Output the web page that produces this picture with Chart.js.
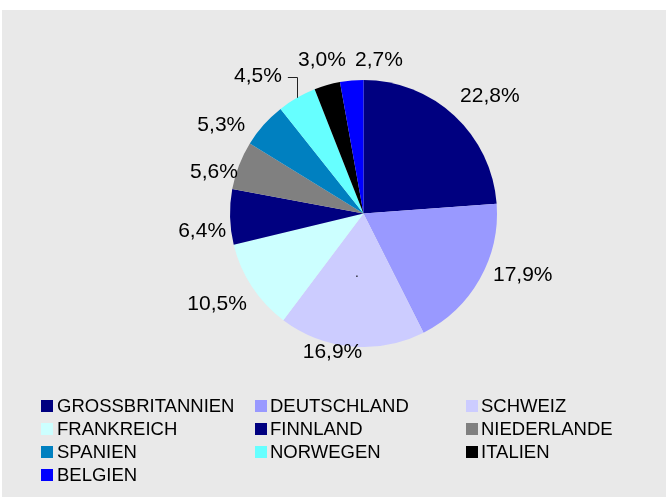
<!DOCTYPE html>
<html>
<head>
<meta charset="utf-8">
<script src="https://cdn.jsdelivr.net/npm/chart.js@4/dist/chart.umd.min.js"></script>
<style>
  html, body { margin: 0; padding: 0; background: #fff; }
  canvas { display: block; }
</style>
</head>
<body>
<canvas id="myChart" width="666" height="497"></canvas>
<script>
// values
const categories = ['GROSSBRITANNIEN', 'DEUTSCHLAND', 'SCHWEIZ', 'FRANKREICH', 'FINNLAND',
  'NIEDERLANDE', 'SPANIEN', 'NORWEGEN', 'ITALIEN', 'BELGIEN'];
const shares = [22.8, 17.9, 16.9, 10.5, 6.4, 5.6, 5.3, 4.5, 3.0, 2.7];
const sliceColors = ['#000080', '#9999FF', '#CCCCFF', '#CCFFFF', '#000080',
  '#808080', '#0080C0', '#66FFFF', '#000000', '#0000FF'];
const shareLabels = shares.map(v => v.toFixed(1).replace('.', ',') + '%');

const FONT = '"Liberation Sans", Arial, sans-serif';
// excel shuffles the outside labels a bit, nudge them the same way
const labelNudge = [[11, -9], [12, -11], [-16, -8], [-5, 10], [2, 14],
  [3, 12], [-20, 10], [-24, -9], [3, -11], [30, -6]];
const leaderFor = 7;

const background = {
  id: 'background',
  beforeDraw(chart) {
    const ctx = chart.ctx;
    ctx.save();
    ctx.fillStyle = '#ffffff';
    ctx.fillRect(0, 0, chart.width, chart.height);
    ctx.fillStyle = '#E9E9E9';
    ctx.fillRect(2, 10, chart.width - 2, chart.height - 10);
    ctx.restore();
  }
};

const sliceLabels = {
  id: 'sliceLabels',
  afterDatasetsDraw(chart) {
    const ctx = chart.ctx;
    const meta = chart.getDatasetMeta(0);
    ctx.save();
    ctx.font = '21px ' + FONT;
    ctx.fillStyle = '#000';
    ctx.textAlign = 'center';
    ctx.textBaseline = 'middle';
    meta.data.forEach((arc, i) => {
      const p = arc.getProps(['x', 'y', 'startAngle', 'endAngle', 'outerRadius']);
      const mid = (p.startAngle + p.endAngle) / 2;
      const cos = Math.cos(mid), sin = Math.sin(mid);
      const text = shareLabels[i];
      const w = ctx.measureText(text).width;
      const ax = p.x + cos * (p.outerRadius + 6);
      const ay = p.y + sin * (p.outerRadius + 6);
      const cx = ax + cos * w / 2 + labelNudge[i][0];
      const cy = ay + sin * 8 + labelNudge[i][1];
      ctx.fillText(text, cx, cy);
      if (i === leaderFor) {
        const ex = p.x + cos * p.outerRadius;
        const ey = p.y + sin * p.outerRadius;
        ctx.beginPath();
        ctx.strokeStyle = '#222';
        ctx.lineWidth = 1;
        ctx.moveTo(cx + w / 2 + 6, Math.round(cy) + 0.5);
        ctx.lineTo(Math.round(ex) + 0.5, Math.round(cy) + 0.5);
        ctx.lineTo(Math.round(ex) + 0.5, ey);
        ctx.stroke();
      }
    });
    // stray dot in the middle of the original
    ctx.font = '12px ' + FONT;
    ctx.fillText('.', 357, 274);
    ctx.restore();
  }
};

const gridLegend = {
  id: 'gridLegend',
  afterDraw(chart) {
    const ctx = chart.ctx;
    const boxX = [41, 255, 466];
    const textX = [57, 270, 481];
    ctx.save();
    ctx.font = '18.5px ' + FONT;
    ctx.textBaseline = 'alphabetic';
    ctx.textAlign = 'left';
    categories.forEach((name, i) => {
      const col = i % 3, row = Math.floor(i / 3);
      const base = 412 + row * 23;
      ctx.fillStyle = sliceColors[i];
      ctx.fillRect(boxX[col], base - 12, 12, 12);
      ctx.fillStyle = '#000';
      ctx.fillText(name, textX[col], base);
    });
    ctx.restore();
  }
};

new Chart(
  document.getElementById('myChart'),
  {
    type: 'pie',
    data: {
      labels: categories,
      datasets: [{
        data: shares,
        backgroundColor: sliceColors,
        borderWidth: 0
      }]
    },
    options: {
      responsive: false,
      animation: false,
      layout: { padding: { left: 230, right: 169, top: 80, bottom: 150 } },
      plugins: {
        legend: { display: false },
        tooltip: { enabled: false }
      }
    },
    plugins: [background, sliceLabels, gridLegend]
  }
);
</script>
</body>
</html>
